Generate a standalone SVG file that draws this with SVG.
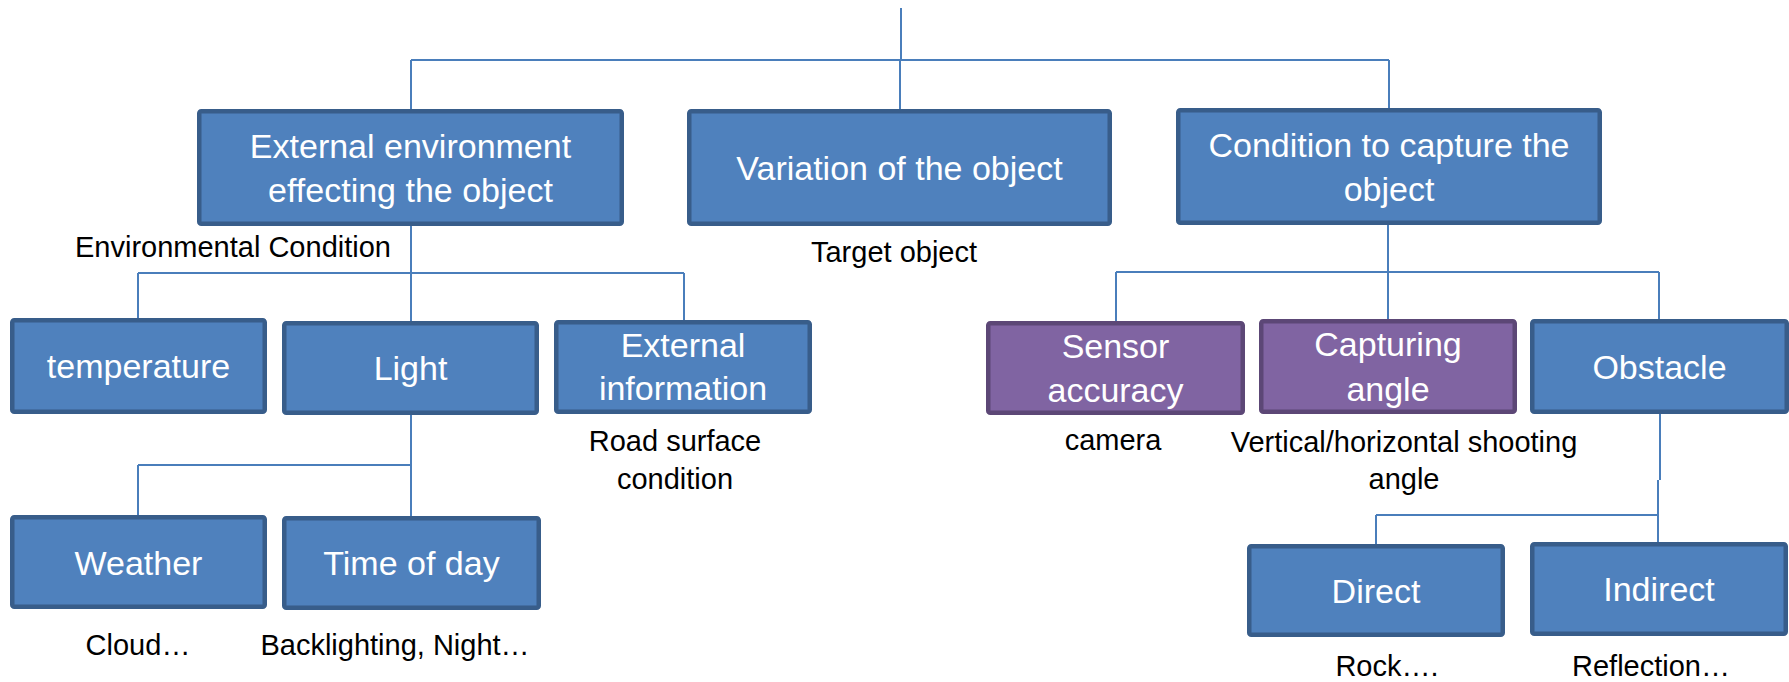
<svg xmlns="http://www.w3.org/2000/svg" width="1789" height="682" viewBox="0 0 1789 682">
<style>
.box{fill:#4F81BD;stroke:#385D8A;stroke-width:4.5}
.pbox{fill:#8064A2;stroke:#5C4776;stroke-width:4.5}
.bt{font-family:"Liberation Sans",Arial,sans-serif;font-size:34px;fill:#FFFFFF;text-anchor:middle}
.lb{font-family:"Liberation Sans",Arial,sans-serif;font-size:29px;fill:#000000;text-anchor:middle}
.conn{fill:none;stroke:#4A7EBB;stroke-width:2}
</style>
<rect width="1789" height="682" fill="#FFFFFF"/>
<g id="connectors" class="conn">
<path d="M901,8 V60"/>
<path d="M411,60 H1389"/>
<path d="M411,60 V109"/>
<path d="M900,60 V109"/>
<path d="M1389,60 V108"/>
<path d="M411,226 V321"/>
<path d="M138,273 H684"/>
<path d="M138,273 V318"/>
<path d="M684,273 V320"/>
<path d="M411,415 V516"/>
<path d="M138,465 H411"/>
<path d="M138,465 V515"/>
<path d="M1388,225 V320"/>
<path d="M1116,272 H1659"/>
<path d="M1116,272 V321"/>
<path d="M1659,272 V319"/>
<path d="M1660,414 V480"/>
<path d="M1658,480 V542"/>
<path d="M1376,515 H1658"/>
<path d="M1376,515 V544"/>
</g>
<g id="n-external">
<rect class="box" x="199.25" y="111.25" width="422.5" height="112.5" rx="2"/>
<text class="bt" x="410.5" y="158">External environment</text>
<text class="bt" x="410.5" y="202">effecting the object</text>
<text class="lb" x="75" y="257" style="text-anchor:start">Environmental Condition</text>
</g>
<g id="n-variation">
<rect class="box" x="689.25" y="111.25" width="420.5" height="112.5" rx="2"/>
<text class="bt" x="899.5" y="180">Variation of the object</text>
<text class="lb" x="894" y="262">Target object</text>
</g>
<g id="n-condition">
<rect class="box" x="1178.25" y="110.25" width="421.5" height="112.5" rx="2"/>
<text class="bt" x="1389" y="157">Condition to capture the</text>
<text class="bt" x="1389" y="201">object</text>
</g>
<g id="n-temperature">
<rect class="box" x="12.25" y="320.25" width="252.5" height="91.5" rx="2"/>
<text class="bt" x="138.5" y="378">temperature</text>
</g>
<g id="n-light">
<rect class="box" x="284.25" y="323.25" width="252.5" height="89.5" rx="2"/>
<text class="bt" x="410.5" y="380">Light</text>
</g>
<g id="n-extinfo">
<rect class="box" x="556.25" y="322.25" width="253.5" height="89.5" rx="2"/>
<text class="bt" x="683" y="357">External</text>
<text class="bt" x="683" y="400">information</text>
<text class="lb" x="675" y="451">Road surface</text>
<text class="lb" x="675" y="489">condition</text>
</g>
<g id="n-sensor">
<rect class="pbox" x="988.25" y="323.25" width="254.5" height="89.5" rx="2"/>
<text class="bt" x="1115.5" y="358">Sensor</text>
<text class="bt" x="1115.5" y="402">accuracy</text>
<text class="lb" x="1113" y="450">camera</text>
</g>
<g id="n-capturing">
<rect class="pbox" x="1261.25" y="321.25" width="253.5" height="90.5" rx="2"/>
<text class="bt" x="1388" y="356">Capturing</text>
<text class="bt" x="1388" y="401">angle</text>
<text class="lb" x="1404" y="452">Vertical/horizontal shooting</text>
<text class="lb" x="1404" y="489">angle</text>
</g>
<g id="n-obstacle">
<rect class="box" x="1532.25" y="321.25" width="254.5" height="90.5" rx="2"/>
<text class="bt" x="1659.5" y="379">Obstacle</text>
</g>
<g id="n-weather">
<rect class="box" x="12.25" y="517.25" width="252.5" height="89.5" rx="2"/>
<text class="bt" x="138.5" y="575">Weather</text>
<text class="lb" x="138" y="655">Cloud…</text>
</g>
<g id="n-timeofday">
<rect class="box" x="284.25" y="518.25" width="254.5" height="89.5" rx="2"/>
<text class="bt" x="411.5" y="575">Time of day</text>
<text class="lb" x="395" y="655">Backlighting, Night…</text>
</g>
<g id="n-direct">
<rect class="box" x="1249.25" y="546.25" width="253.5" height="88.5" rx="2"/>
<text class="bt" x="1376" y="603">Direct</text>
<text class="lb" x="1387" y="676">Rock….</text>
</g>
<g id="n-indirect">
<rect class="box" x="1532.25" y="544.25" width="253.5" height="89.5" rx="2"/>
<text class="bt" x="1659" y="601">Indirect</text>
<text class="lb" x="1651" y="676">Reflection…</text>
</g>
</svg>
